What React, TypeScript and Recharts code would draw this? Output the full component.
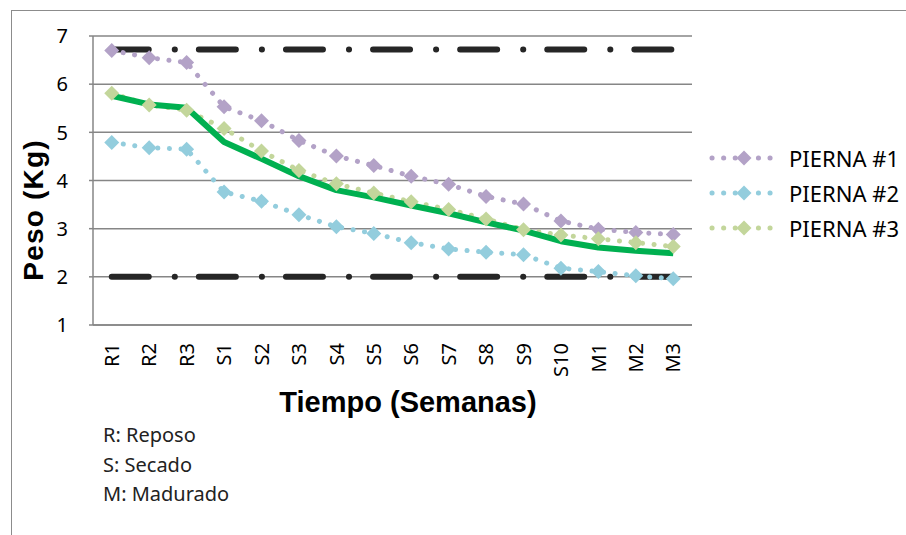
import React from "react";
import { ComposedChart, Line, XAxis, YAxis, CartesianGrid, Legend, Label } from "recharts";

const semanas = ["R1", "R2", "R3", "S1", "S2", "S3", "S4", "S5", "S6", "S7", "S8", "S9", "S10", "M1", "M2", "M3"];
const pierna1 = [6.7, 6.55, 6.45, 5.53, 5.24, 4.83, 4.51, 4.31, 4.09, 3.92, 3.67, 3.51, 3.16, 2.99, 2.92, 2.88];
const pierna2 = [4.79, 4.68, 4.65, 3.76, 3.57, 3.29, 3.04, 2.9, 2.71, 2.58, 2.51, 2.46, 2.18, 2.11, 2.02, 1.96];
const pierna3 = [5.81, 5.57, 5.46, 5.08, 4.61, 4.21, 3.93, 3.74, 3.56, 3.4, 3.2, 2.98, 2.87, 2.79, 2.71, 2.63];
const promedio = [5.76, 5.58, 5.51, 4.8, 4.45, 4.09, 3.8, 3.65, 3.48, 3.32, 3.13, 2.96, 2.74, 2.61, 2.54, 2.49];
const limiteSup = [6.72, 6.72, 6.72, 6.72, 6.72, 6.72, 6.72, 6.72, 6.72, 6.72, 6.72, 6.72, 6.72, 6.72, 6.72, 6.72];
const limiteInf = [2, 2, 2, 2, 2, 2, 2, 2, 2, 2, 2, 2, 2, 2, 2, 2];
const yTicks = [1, 2, 3, 4, 5, 6, 7];

const series = [
  { key: "p1", name: "PIERNA #1", color: "#B3A2C7" },
  { key: "p2", name: "PIERNA #2", color: "#93CDDD" },
  { key: "p3", name: "PIERNA #3", color: "#C3D69B" },
];

const data = semanas.map((s, i) => ({
  semana: s,
  p1: pierna1[i],
  p2: pierna2[i],
  p3: pierna3[i],
  prom: promedio[i],
  sup: limiteSup[i],
  inf: limiteInf[i],
}));

const FONT = "'Noto Sans', 'Open Sans', sans-serif";
const BOLD = "'Liberation Sans', Arial, sans-serif";

const Diamond = (color: string) => (props: any) => {
  const { cx, cy } = props;
  if (cx == null || cy == null) return null;
  const r = 7.5;
  return (
    <polygon
      key={`${cx}-${cy}`}
      points={`${cx},${cy - r} ${cx + r},${cy} ${cx},${cy + r} ${cx - r},${cy}`}
      fill={color}
    />
  );
};

const XTick = (props: any) => {
  const { x, payload } = props;
  return (
    <g transform={`translate(${x},325) rotate(-90)`}>
      <text x={-18} y={0} dy="0.36em" textAnchor="end" fontSize={20} fontFamily={FONT} fill="#000">
        {payload.value}
      </text>
    </g>
  );
};

const YTick = (props: any) => {
  const { y, payload } = props;
  return (
    <text x={68} y={y} dy="0.36em" textAnchor="end" fontSize={20} fontFamily={FONT} fill="#000">
      {payload.value}
    </text>
  );
};

const LegendBox = () => (
  <div style={{ fontFamily: FONT }}>
    {series.map((s) => (
      <div key={s.key} style={{ display: "flex", alignItems: "center", height: 35 }}>
        <svg width={80} height={20} style={{ display: "block" }}>
          <line x1={3} y1={10} x2={62} y2={10} stroke={s.color} strokeWidth={5} strokeLinecap="round" strokeDasharray="0.1 11.5" />
          <polygon points="35,2.5 42.5,10 35,17.5 27.5,10" fill={s.color} />
        </svg>
        <span style={{ fontSize: 22, color: "#000", lineHeight: "24px" }}>{s.name}</span>
      </div>
    ))}
  </div>
);

const notas = ["R: Reposo", "S: Secado", "M: Madurado"];

export default function App() {
  return (
    <div style={{ position: "absolute", left: 0, top: 0, width: 906, height: 535, overflow: "hidden", background: "#fff" }}>
      <div
        style={{
          position: "absolute",
          left: 11,
          top: 10,
          width: 920,
          height: 540,
          borderLeft: "1.5px solid #8c8c8c",
          borderTop: "1.5px solid #8c8c8c",
        }}
      />
      <ComposedChart width={906} height={535} data={data} margin={{ top: 36, right: 214, bottom: 150, left: 33 }}>
        <CartesianGrid vertical={false} stroke="#868686" strokeWidth={1.5} />
        <XAxis
          dataKey="semana"
          scale="point"
          padding={{ left: 18.75, right: 18.75 }}
          height={60}
          tick={<XTick />}
          tickLine={false}
          axisLine={{ stroke: "#868686", strokeWidth: 1.5 }}
          interval={0}
        >
          <Label
            content={() => (
              <text x={408} y={402} dy="0.36em" textAnchor="middle" fontSize={29} fontWeight="bold" fontFamily={BOLD} fill="#000">
                Tiempo (Semanas)
              </text>
            )}
          />
        </XAxis>
        <YAxis
          type="number"
          domain={[1, 7]}
          ticks={yTicks}
          width={60}
          tick={<YTick />}
          tickSize={4}
          tickLine={{ stroke: "#868686", strokeWidth: 1.5 }}
          axisLine={{ stroke: "#868686", strokeWidth: 1.5 }}
          interval={0}
        >
          <Label
            content={() => (
              <text
                x={33}
                y={210}
                dy="0.36em"
                transform="rotate(-90 33 210)"
                textAnchor="middle"
                fontSize={28}
                fontWeight="bold"
                letterSpacing={1.2}
                fontFamily={BOLD}
                fill="#000"
              >
                Peso (Kg)
              </text>
            )}
          />
        </YAxis>
        <Legend
          layout="horizontal"
          verticalAlign="middle"
          align="center"
          content={() => <LegendBox />}
          wrapperStyle={{ position: "absolute", left: 709, top: 140, width: 200, height: 105 }}
        />
        <Line
          dataKey="sup"
          stroke="#262626"
          strokeWidth={6}
          strokeLinecap="round"
          strokeDasharray="37 26 0.1 24"
          dot={false}
          activeDot={false}
          legendType="none"
          isAnimationActive={false}
        />
        <Line
          dataKey="inf"
          stroke="#262626"
          strokeWidth={6}
          strokeLinecap="round"
          strokeDasharray="37 26 0.1 24"
          dot={false}
          activeDot={false}
          legendType="none"
          isAnimationActive={false}
        />
        {series.map((s) => (
          <Line
            key={s.key}
            dataKey={s.key}
            name={s.name}
            stroke={s.color}
            strokeWidth={5}
            strokeLinecap="round"
            strokeDasharray="0.1 11.5"
            dot={Diamond(s.color)}
            activeDot={false}
            isAnimationActive={false}
          />
        ))}
        <Line
          dataKey="prom"
          stroke="#00B050"
          strokeWidth={6}
          strokeLinejoin="round"
          dot={false}
          activeDot={false}
          legendType="none"
          isAnimationActive={false}
        />
      </ComposedChart>
      {notas.map((n, i) => (
        <div
          key={n}
          style={{
            position: "absolute",
            left: 103,
            top: 435 + i * 29.5 - 14,
            height: 28,
            lineHeight: "28px",
            fontSize: 20,
            fontFamily: FONT,
            color: "#222",
            whiteSpace: "pre",
          }}
        >
          {n}
        </div>
      ))}
    </div>
  );
}
